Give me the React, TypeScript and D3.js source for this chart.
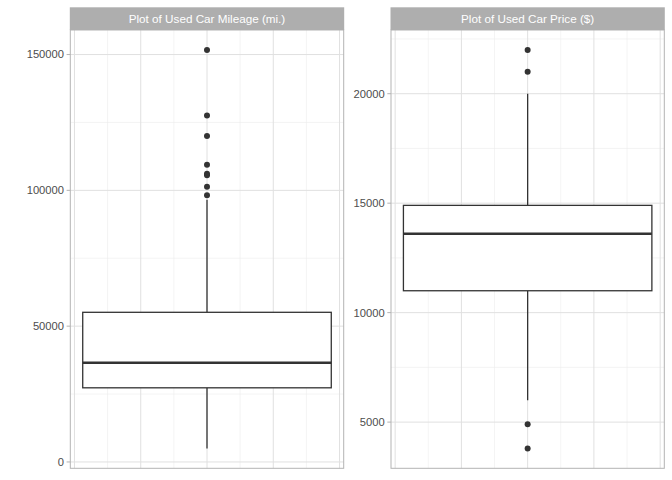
import React, { useEffect } from "react";
import * as d3 from "d3";

// summary stats: [lower whisker, Q1, median, Q3, upper whisker]
const mileageStats = [5000, 27300, 36500, 55100, 96500];
const mileageOutliers = [151700, 127600, 120000, 109400, 106100, 105600, 101300, 98200];
const priceStats = [6000, 11000, 13600, 14900, 20000];
const priceOutliers = [22000, 21000, 4900, 3800];
const titles = ["Plot of Used Car Mileage (mi.)", "Plot of Used Car Price ($)"];

const xMajor = [-0.4, -0.2, 0, 0.2, 0.4];
const xMinor = [-0.3, -0.1, 0.1, 0.3];

const W = 672;
const H = 480;
const FONT = "'Liberation Sans', Arial, Helvetica, sans-serif";

type PanelProps = {
  left: number;
  width: number;
  stats: number[];
  outliers: number[];
  title: string;
};

function Panel({ left, width, stats, outliers, title }: PanelProps) {
  const top = 30;
  const bottom = 468.3;
  const stripTop = 7.3;

  const [lo, hi] = d3.extent([...stats, ...outliers]) as [number, number];
  const pad = (hi - lo) * 0.05;
  const y = d3.scaleLinear().domain([lo - pad, hi + pad]).range([bottom, top]);
  const x = d3.scaleLinear().domain([-0.4125, 0.4125]).range([left, left + width]);

  const major = y.ticks(4);
  const step = major[1] - major[0];
  const minor: number[] = [];
  for (let v = major[0] - step / 2; v <= hi + pad; v += step) {
    if (v >= lo - pad) minor.push(v);
  }

  const [wLo, q1, med, q3, wHi] = stats;
  const cx = x(0);

  return (
    <g>
      <rect x={left} y={top} width={width} height={bottom - top} fill="#fff" />
      {/* grid */}
      {minor.map((v) => (
        <line key={"hm" + v} x1={left} x2={left + width} y1={y(v)} y2={y(v)} stroke="#EDEDED" strokeWidth={0.6} />
      ))}
      {xMinor.map((v) => (
        <line key={"vm" + v} x1={x(v)} x2={x(v)} y1={top} y2={bottom} stroke="#EDEDED" strokeWidth={0.6} />
      ))}
      {major.map((v) => (
        <line key={"hM" + v} x1={left} x2={left + width} y1={y(v)} y2={y(v)} stroke="#E0E0E0" strokeWidth={1} />
      ))}
      {xMajor.map((v) => (
        <line key={"vM" + v} x1={x(v)} x2={x(v)} y1={top} y2={bottom} stroke="#E0E0E0" strokeWidth={1} />
      ))}

      {/* whiskers */}
      <line x1={cx} x2={cx} y1={y(q3)} y2={y(wHi)} stroke="#333" strokeWidth={1.3} />
      <line x1={cx} x2={cx} y1={y(q1)} y2={y(wLo)} stroke="#333" strokeWidth={1.3} />
      {/* box */}
      <rect
        x={x(-0.375)}
        y={y(q3)}
        width={x(0.375) - x(-0.375)}
        height={y(q1) - y(q3)}
        fill="#fff"
        stroke="#333"
        strokeWidth={1.3}
      />
      <line x1={x(-0.375)} x2={x(0.375)} y1={y(med)} y2={y(med)} stroke="#333" strokeWidth={2.5} />
      {/* outliers */}
      {outliers.map((v, i) => (
        <circle key={i} cx={cx} cy={y(v)} r={3} fill="#333" />
      ))}

      {/* border */}
      <rect x={left} y={top} width={width} height={bottom - top} fill="none" stroke="#B3B3B3" strokeWidth={1} />

      {/* y axis */}
      {major.map((v) => (
        <g key={"t" + v}>
          <line x1={left - 3.7} x2={left} y1={y(v)} y2={y(v)} stroke="#B3B3B3" strokeWidth={1} />
          <text
            x={left - 6.3}
            y={y(v)}
            dy="0.35em"
            textAnchor="end"
            fontSize={11.2}
            fill="#4D4D4D"
            fontFamily={FONT}
          >
            {v}
          </text>
        </g>
      ))}

      {/* strip */}
      <rect x={left - 0.5} y={stripTop} width={width + 1} height={top - stripTop} fill="#AEAEAE" />
      <text
        x={left + width / 2}
        y={(stripTop + top) / 2}
        dy="0.35em"
        textAnchor="middle"
        fontSize={11.7}
        fill="#fff"
        fontFamily={FONT}
      >
        {title}
      </text>
    </g>
  );
}

export default function App() {
  useEffect(() => {
    document.body.style.margin = "0";
  }, []);

  return (
    <svg width={W} height={H} style={{ display: "block", background: "#fff" }}>
      <rect width={W} height={H} fill="#fff" />
      <Panel left={70.3} width={273.4} stats={mileageStats} outliers={mileageOutliers} title={titles[0]} />
      <Panel left={391} width={273.3} stats={priceStats} outliers={priceOutliers} title={titles[1]} />
    </svg>
  );
}
